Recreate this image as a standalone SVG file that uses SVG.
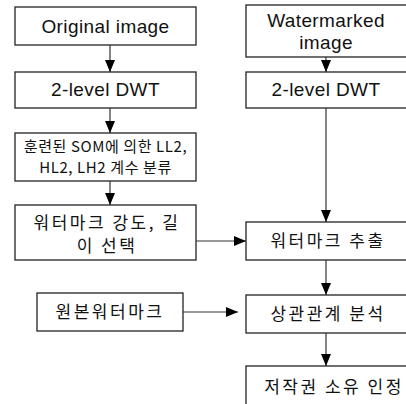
<svg xmlns="http://www.w3.org/2000/svg" width="406" height="404" viewBox="0 0 406 404">
<defs>
<marker id="ah" markerWidth="12" markerHeight="12" viewBox="0 0 12 12" refX="12" refY="6" orient="auto" markerUnits="userSpaceOnUse">
<path d="M0,1 L12,6 L0,11 Z" fill="#000"/>
</marker>
<style>
.box{fill:#fff;stroke:#222;stroke-width:1.3}
.t{font-family:"Liberation Sans","Noto Sans CJK KR",sans-serif;font-size:19px;fill:#111;text-anchor:middle;letter-spacing:0.4px}
.k{font-family:"Noto Sans CJK KR","Liberation Sans",sans-serif;font-size:17px;fill:#111;text-anchor:middle;letter-spacing:2.5px}
.s{font-family:"Noto Sans CJK KR","Liberation Sans",sans-serif;font-size:15px;fill:#111;text-anchor:middle;letter-spacing:0.6px}
.c{stroke:#333;stroke-width:1.2;fill:none;marker-end:url(#ah)}
</style>
</defs>
<rect width="406" height="404" fill="#fff"/>
<g id="original">
<rect class="box" x="15" y="7" width="181" height="38"/>
<text class="t" x="105.5" y="33">Original image</text>
</g>
<g id="dwt-left">
<rect class="box" x="15" y="72" width="181" height="36"/>
<text class="t" x="105.5" y="96">2-level DWT</text>
</g>
<g id="som">
<rect class="box" x="15" y="133" width="181" height="48"/>
<text class="s" x="105.5" y="152">훈련된 SOM에 의한 LL2,</text>
<text class="s" x="105.5" y="173">HL2, LH2 계수 분류</text>
</g>
<g id="select">
<rect class="box" x="15" y="205" width="181" height="55"/>
<text class="k" x="107" y="229">워터마크 강도, 길</text>
<text class="k" x="107" y="252">이 선택</text>
</g>
<g id="origwm">
<rect class="box" x="37" y="293" width="146" height="38"/>
<text class="k" x="110" y="318">원본워터마크</text>
</g>
<g id="watermarked">
<rect class="box" x="246" y="5" width="165" height="52"/>
<text class="t" x="326" y="27">Watermarked</text>
<text class="t" x="326" y="49">image</text>
</g>
<g id="dwt-right">
<rect class="box" x="246" y="72" width="165" height="36"/>
<text class="t" x="326" y="96">2-level DWT</text>
</g>
<g id="extract">
<rect class="box" x="246" y="222" width="165" height="38"/>
<text class="k" x="328" y="247">워터마크 추출</text>
</g>
<g id="corr">
<rect class="box" x="246" y="295" width="165" height="38"/>
<text class="k" x="328" y="320">상관관계 분석</text>
</g>
<g id="copyright">
<rect class="box" x="246" y="366" width="165" height="42"/>
<text class="k" x="334" y="393">저작권 소유 인정</text>
</g>
<g id="connectors">
<line class="c" x1="110" y1="45" x2="110" y2="72"/>
<line class="c" x1="110" y1="108" x2="110" y2="133"/>
<line class="c" x1="110" y1="181" x2="110" y2="205"/>
<line class="c" x1="326" y1="57" x2="326" y2="72"/>
<line class="c" x1="326" y1="108" x2="326" y2="222"/>
<line class="c" x1="326" y1="260" x2="326" y2="295"/>
<line class="c" x1="326" y1="333" x2="326" y2="366"/>
<line class="c" x1="196" y1="241" x2="246" y2="241"/>
<line class="c" x1="183" y1="312" x2="238" y2="312"/>
</g>
</svg>
